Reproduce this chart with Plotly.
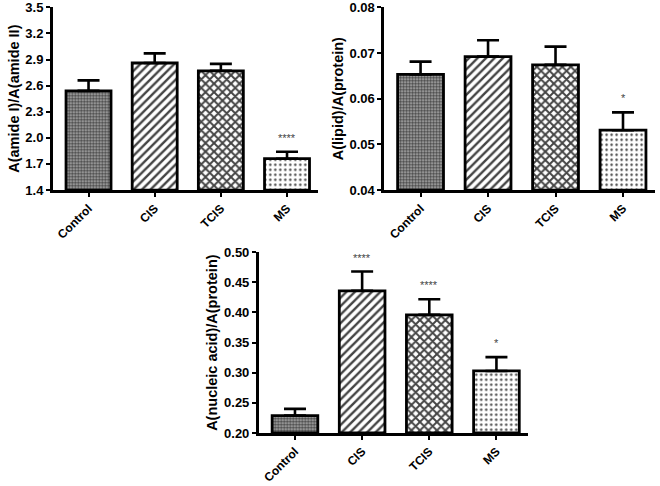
import plotly.graph_objects as go

# 数据 — 三个面板
groups = ["Control", "CIS", "TCIS", "MS"]

amide_mean = [2.54, 2.86, 2.77, 1.76]
amide_err = [0.12, 0.11, 0.08, 0.08]
amide_sig = ["", "", "", "****"]

lipid_mean = [0.0653, 0.0692, 0.0674, 0.0531]
lipid_err = [0.0028, 0.0036, 0.0040, 0.0039]
lipid_sig = ["", "", "", "*"]

nucleic_mean = [0.229, 0.436, 0.396, 0.303]
nucleic_err = [0.011, 0.032, 0.026, 0.023]
nucleic_sig = ["", "****", "****", "*"]

FONT = "Liberation Sans, Arial, sans-serif"

# 各组填充图案
patterns = [
    dict(shape=".", size=3, solidity=0.55, fgcolor="#222222", bgcolor="#b4b4b4"),
    dict(shape="/", size=6, solidity=0.4, fgcolor="#000000", bgcolor="white"),
    dict(shape="x", size=6, solidity=0.55, fgcolor="#000000", bgcolor="white"),
    dict(shape=".", size=5, solidity=0.18, fgcolor="#666666", bgcolor="white"),
]

panels = [
    ("x", "y", amide_mean, amide_err, amide_sig, "A(amide I)/A(amide II)",
     [1.4, 3.5], 0.3, ".1f"),
    ("x2", "y2", lipid_mean, lipid_err, lipid_sig, "A(lipid)/A(protein)",
     [0.04, 0.08], 0.01, ".2f"),
    ("x3", "y3", nucleic_mean, nucleic_err, nucleic_sig, "A(nucleic acid)/A(protein)",
     [0.20, 0.50], 0.05, ".2f"),
]

domains = [
    ([0.080, 0.482], [0.609, 0.985]),
    ([0.582, 0.992], [0.609, 0.985]),
    ([0.392, 0.800], [0.109, 0.481]),
]

fig = go.Figure()
annotations = []
for i, (xa, ya, mean, err, sig, title, yr, dt, fmt) in enumerate(panels):
    fig.add_trace(go.Bar(
        x=groups, y=[m - yr[0] for m in mean], base=yr[0],
        xaxis=xa, yaxis=ya, width=0.68, showlegend=False, hoverinfo="skip",
        marker=dict(color=[p["bgcolor"] for p in patterns],
                    line=dict(color="black", width=2.8),
                    pattern=dict(
                        shape=[p["shape"] for p in patterns],
                        size=[p["size"] for p in patterns],
                        solidity=[p["solidity"] for p in patterns],
                        fgcolor=[p["fgcolor"] for p in patterns],
                        bgcolor=[p["bgcolor"] for p in patterns],
                        fgopacity=1,
                    )),
        error_y=dict(type="data", symmetric=False, array=err,
                     arrayminus=[0] * len(err), color="black",
                     thickness=2.6, width=11),
    ))
    for g, m, e, s in zip(groups, mean, err, sig):
        if s:
            annotations.append(dict(
                x=g, y=m + e, xref=xa, yref=ya, text=s, showarrow=False,
                yshift=14, font=dict(family=FONT, size=11, color="#444444"),
            ))
    xd, yd = domains[i]
    ax_x = "xaxis" if i == 0 else f"xaxis{i + 1}"
    ax_y = "yaxis" if i == 0 else f"yaxis{i + 1}"
    fig.layout[ax_x] = dict(
        domain=xd, anchor=ya, showline=True, linecolor="black", linewidth=2.5,
        ticks="outside", ticklen=4, tickwidth=2, tickcolor="black",
        tickangle=-45, showgrid=False, range=[-0.54, 3.47], automargin=False,
        ticklabeloverflow="allow",
        tickfont=dict(family=FONT, size=12, color="black", weight="bold"),
    )
    fig.layout[ax_y] = dict(
        domain=yd, anchor=xa, showline=True, linecolor="black", linewidth=2.5,
        ticks="outside", ticklen=4, tickwidth=2, tickcolor="black",
        range=yr, dtick=dt, tick0=yr[0], tickformat=fmt, showgrid=False,
        zeroline=False, automargin=False, ticklabeloverflow="allow",
        tickfont=dict(family=FONT, size=13, color="black", weight="bold"),
        title=dict(text=title, standoff=3,
                   font=dict(family=FONT, size=14.5, color="black", weight="bold")),
    )

fig.update_layout(
    width=660, height=486, margin=dict(l=0, r=0, t=0, b=0),
    plot_bgcolor="white", paper_bgcolor="white",
    annotations=annotations,
)
# 去掉页面默认的 8px 边距，让图从窗口左上角开始
fig.write_html("out.html", config={"displayModeBar": False},
               post_script="document.body.style.margin='0';")
